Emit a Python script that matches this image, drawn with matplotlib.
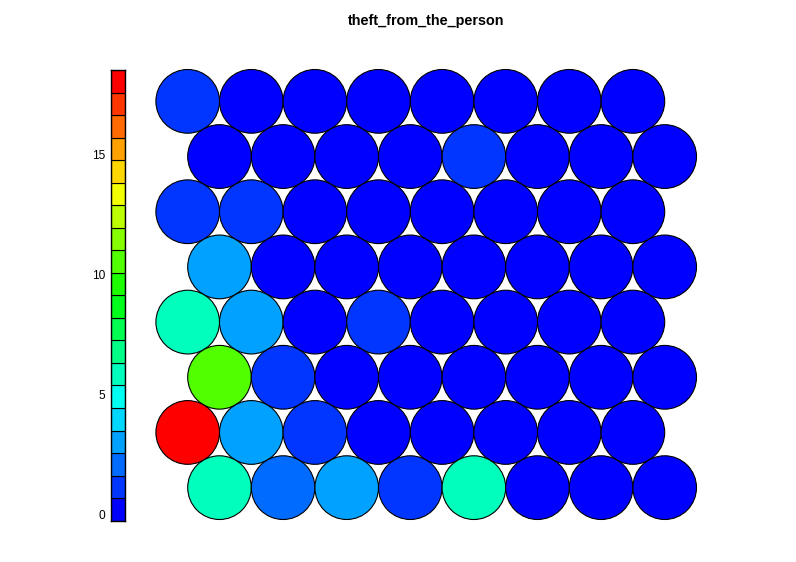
import colorsys
import numpy as np
import matplotlib
matplotlib.use("Agg")
import matplotlib.pyplot as plt
from matplotlib.patches import Circle, Rectangle

title = "theft_from_the_person"

# Unit property values, rows listed from top row to bottom row (8 x 8 hex grid)
row8 = [1.2, 0.1, 0.1, 0.1, 0.1, 0.1, 0.1, 0.1]
row7 = [0.1, 0.1, 0.1, 0.1, 1.2, 0.1, 0.1, 0.1]
row6 = [1.2, 1.2, 0.1, 0.1, 0.1, 0.1, 0.1, 0.1]
row5 = [3.0, 0.1, 0.1, 0.1, 0.1, 0.1, 0.1, 0.1]
row4 = [5.9, 3.0, 0.1, 1.2, 0.1, 0.1, 0.1, 0.1]
row3 = [10.6, 1.2, 0.1, 0.1, 0.1, 0.1, 0.1, 0.1]
row2 = [18.54, 3.0, 1.2, 0.1, 0.1, 0.1, 0.1, 0.1]
row1 = [5.9, 2.1, 3.0, 1.2, 5.9, 0.1, 0.1, 0.1]
rows_top_to_bottom = [row8, row7, row6, row5, row4, row3, row2, row1]

key_limits = [-0.24, 18.54]
key_ticks = [0, 5, 10, 15]
n_colors = 20

# rainbow palette from blue to red (like rev(rainbow(20, end = 4/6)))
hues = np.linspace(2/3, 0, n_colors)
palette = [colorsys.hsv_to_rgb(h, 1, 1) for h in hues]

def color_for(v):
    lo, hi = key_limits
    idx = int((v - lo) / (hi - lo) * n_colors)
    idx = min(max(idx, 0), n_colors - 1)
    return palette[idx]

W, H = 796, 562
fig = plt.figure(figsize=(W / 100, H / 100), dpi=100)

# main hex map axes (pixel geometry)
px_left, px_right = 155.9, 696.5
px_top, px_bottom = 69.5, 519.5
ax = fig.add_axes([px_left / W, 1 - px_bottom / H, (px_right - px_left) / W, (px_bottom - px_top) / H])
ax.set_xlim(0.5, 9.0)
ax.set_ylim(0.5, 1 + 7 * np.sqrt(3) / 2 + 0.5)
ax.axis("off")

n_rows = len(rows_top_to_bottom)
for r, vals in enumerate(rows_top_to_bottom):
    yi = n_rows - 1 - r  # 0 = bottom
    y = 1 + yi * np.sqrt(3) / 2
    offset = 0.5 if yi % 2 == 0 else 0.0
    for c, v in enumerate(vals):
        x = 1 + c + offset
        ax.add_patch(Circle((x, y), 0.5, facecolor=color_for(v), edgecolor="black",
                            linewidth=0.8, clip_on=False))

# colour key
kx0, kx1 = 111, 125
ky0, ky1 = 70, 520.7
kax = fig.add_axes([kx0 / W, 1 - ky1 / H, (kx1 - kx0) / W, (ky1 - ky0) / H])
kax.set_xlim(0, 1)
kax.set_ylim(*key_limits)
edges = np.linspace(key_limits[0], key_limits[1], n_colors + 1)
for i in range(n_colors):
    kax.add_patch(Rectangle((0, edges[i]), 1, edges[i + 1] - edges[i],
                            facecolor=palette[i], edgecolor="black", linewidth=0.8))
kax.set_xticks([])
kax.set_yticks(key_ticks)
kax.set_yticklabels([str(t) for t in key_ticks], family="Liberation Sans", fontsize=8.6)
kax.tick_params(axis="y", length=0, pad=4)
for s in kax.spines.values():
    s.set_linewidth(1.0)

fig.text((px_left + px_right) / 2 / W, 1 - 20.5 / H, title, ha="center", va="center",
         fontsize=10.4, fontweight="bold", family="Liberation Sans")

fig.savefig("out.png", dpi=100)
